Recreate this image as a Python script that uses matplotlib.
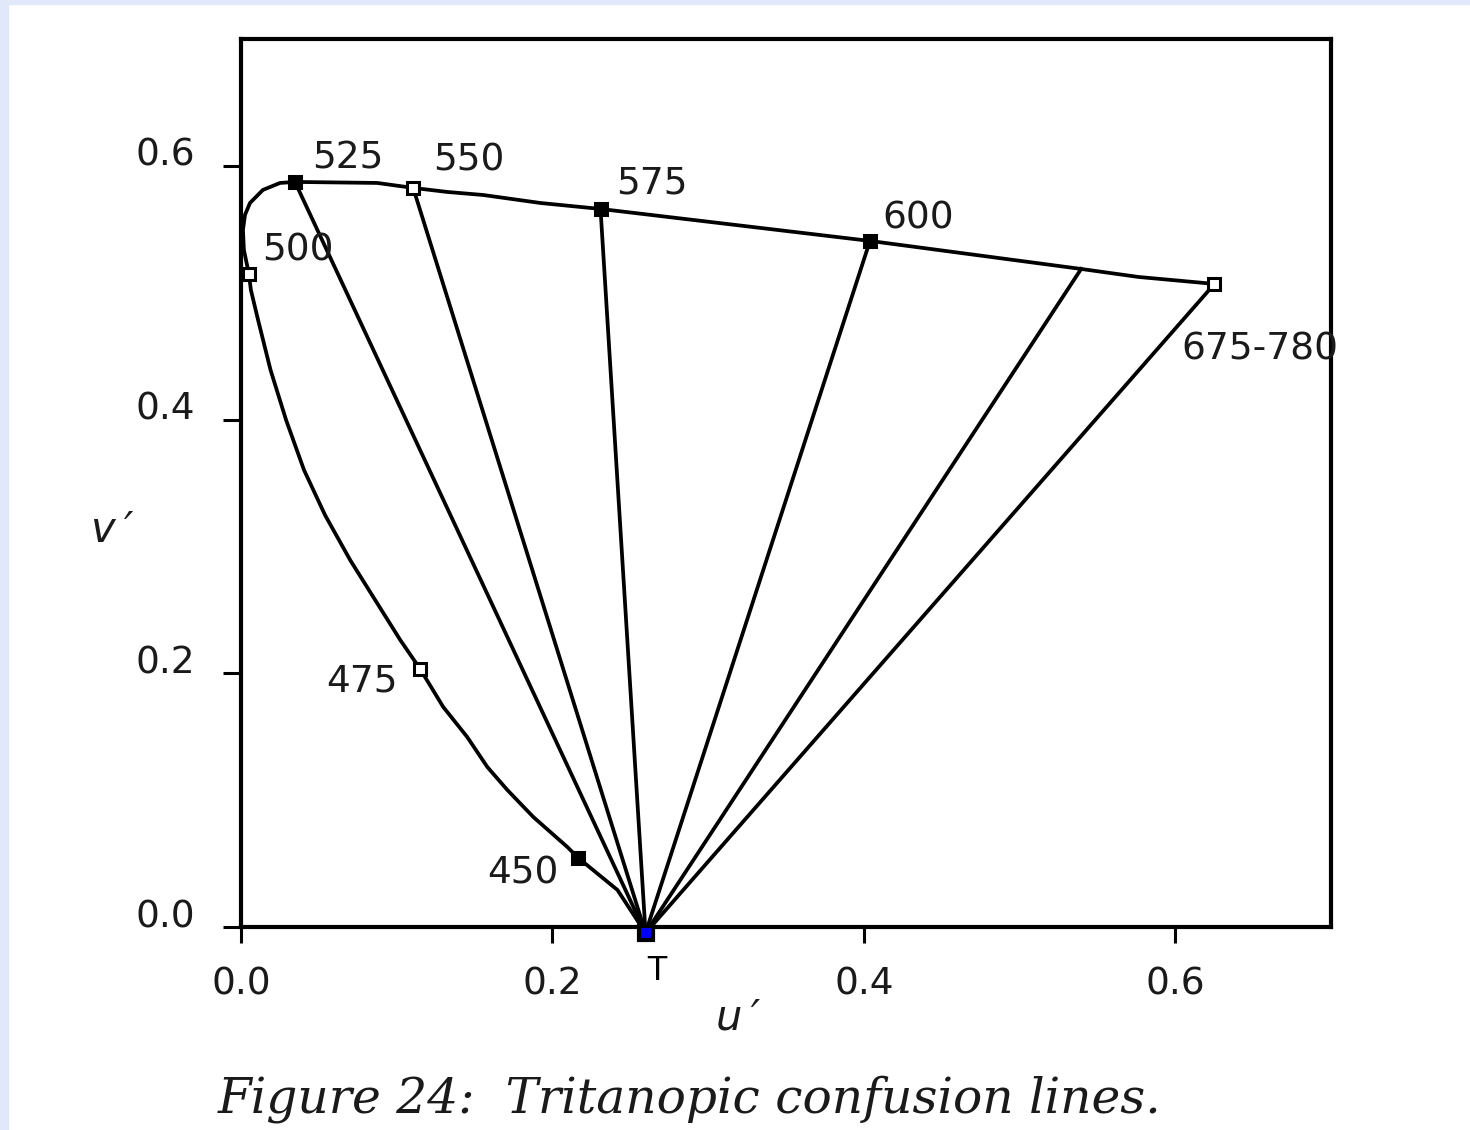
import matplotlib
matplotlib.use("Agg")
import matplotlib.pyplot as plt
from matplotlib.patches import Rectangle

# Spectrum locus (u', v'), from the confusion point up and round
locus_u = [0.2598, 0.2418, 0.2167, 0.2096, 0.1878, 0.1711, 0.1582, 0.1453, 0.1299, 0.1151,
           0.1023, 0.0862, 0.0701, 0.0540, 0.0405, 0.0290, 0.0190, 0.0110, 0.0064, 0.0051,
           0.0019, 0.0013, 0.0026, 0.0058, 0.0141, 0.0251, 0.0347, 0.0875, 0.1106, 0.1325,
           0.1556, 0.1923, 0.2309, 0.4039, 0.5395, 0.5762, 0.6251]
locus_v = [-0.0047, 0.0292, 0.0544, 0.0631, 0.0867, 0.1080, 0.1262, 0.1498, 0.1735, 0.2034,
           0.2263, 0.2578, 0.2894, 0.3248, 0.3603, 0.3997, 0.4392, 0.4786, 0.5022, 0.5149,
           0.5338, 0.5496, 0.5614, 0.5708, 0.5811, 0.5866, 0.5874, 0.5866, 0.5827, 0.5795,
           0.5771, 0.5708, 0.5661, 0.5409, 0.5188, 0.5125, 0.5070]

# Labelled wavelengths on the locus
wl_labels = ["450", "475", "500", "525", "550", "575", "600", "675-780"]
wl_u = [0.2167, 0.1151, 0.0051, 0.0347, 0.1106, 0.2309, 0.4039, 0.6251]
wl_v = [0.0544, 0.2034, 0.5149, 0.5874, 0.5827, 0.5661, 0.5409, 0.5070]
wl_filled = [True, False, False, True, False, True, True, False]

# Tritanopic confusion point
T_u, T_v = 0.2598, -0.0047

# Confusion lines run from T to these locus points
line_u = [0.0347, 0.1106, 0.2309, 0.4039, 0.5395, 0.6251]
line_v = [0.5874, 0.5827, 0.5661, 0.5409, 0.5188, 0.5070]

ticks = [0.0, 0.2, 0.4, 0.6]
tick_labels = ["0.0", "0.2", "0.4", "0.6"]

# label offsets in points (styling only)
label_offsets = {"450": (-40, -11), "475": (-42, -9), "500": (35, 17), "525": (38, 17),
                 "550": (40, 20), "575": (37, 18), "600": (35, 16), "675-780": (33, -47)}

plt.rcParams["font.family"] = ["DejaVu Sans"]
fig = plt.figure(figsize=(14.7, 11.3), dpi=100, facecolor="white")
ax = fig.add_axes([0.1639, 0.1796, 0.7416, 0.7858])

# light blue page border on the left and top
fig.patches.append(Rectangle((0, 0), 8 / 1470, 1, transform=fig.transFigure,
                             color="#E0E8FA", zorder=0))
fig.patches.append(Rectangle((0, 1 - 4 / 1130), 1, 4 / 1130, transform=fig.transFigure,
                             color="#E0E8FA", zorder=0))

lw = 2.7
ax.plot(locus_u, locus_v, color="black", lw=lw, clip_on=False, zorder=3)
for u, v in zip(line_u, line_v):
    ax.plot([T_u, u], [T_v, v], color="black", lw=lw, clip_on=False, zorder=3)

for lab, u, v, f in zip(wl_labels, wl_u, wl_v, wl_filled):
    ax.plot(u, v, marker="s", ms=8.5, mew=2.2, mec="black",
            mfc="black" if f else "white", clip_on=False, zorder=4)
    ax.annotate(lab, (u, v), xytext=label_offsets[lab], textcoords="offset points",
                ha="center", va="center", fontsize=27, color="#1a1a1a")

ax.plot(T_u, T_v, marker="s", ms=10, mew=3, mec="black", mfc="#0000FF",
        clip_on=False, zorder=5)
ax.annotate("T", (T_u, T_v), xytext=(8, -27), textcoords="offset points",
            ha="center", va="center", fontsize=25, family="Liberation Sans",
            annotation_clip=False)

ax.set_xlim(0, 0.70)
ax.set_ylim(0, 0.70)
ax.set_xticks(ticks)
ax.set_xticklabels(tick_labels)
ax.set_yticks(ticks)
ax.set_yticklabels(tick_labels, va="baseline")
ax.tick_params(axis="y", direction="out", length=13, width=2.2, pad=20, labelsize=27,
               labelcolor="#1a1a1a")
ax.tick_params(axis="x", direction="out", length=11.5, width=2.2, pad=17, labelsize=27,
               labelcolor="#1a1a1a")
for s in ax.spines.values():
    s.set_linewidth(3)

ax.set_xlabel("u\u2009\u2032", fontsize=30, style="italic", color="#1a1a1a", va="center")
ax.xaxis.set_label_coords(0.456, -0.102)
ax.set_ylabel("v\u2009\u2032", fontsize=30, style="italic", rotation=0, color="#1a1a1a",
              ha="center", va="center")
ax.yaxis.set_label_coords(-0.118, 0.447)

fig.text(0.469, 0.0159, "Figure 24:  Tritanopic confusion lines.", ha="center",
         va="baseline", fontsize=35, style="italic", family="DejaVu Serif",
         color="#1a1a1a")

fig.savefig("out.png", dpi=100, facecolor="white")
